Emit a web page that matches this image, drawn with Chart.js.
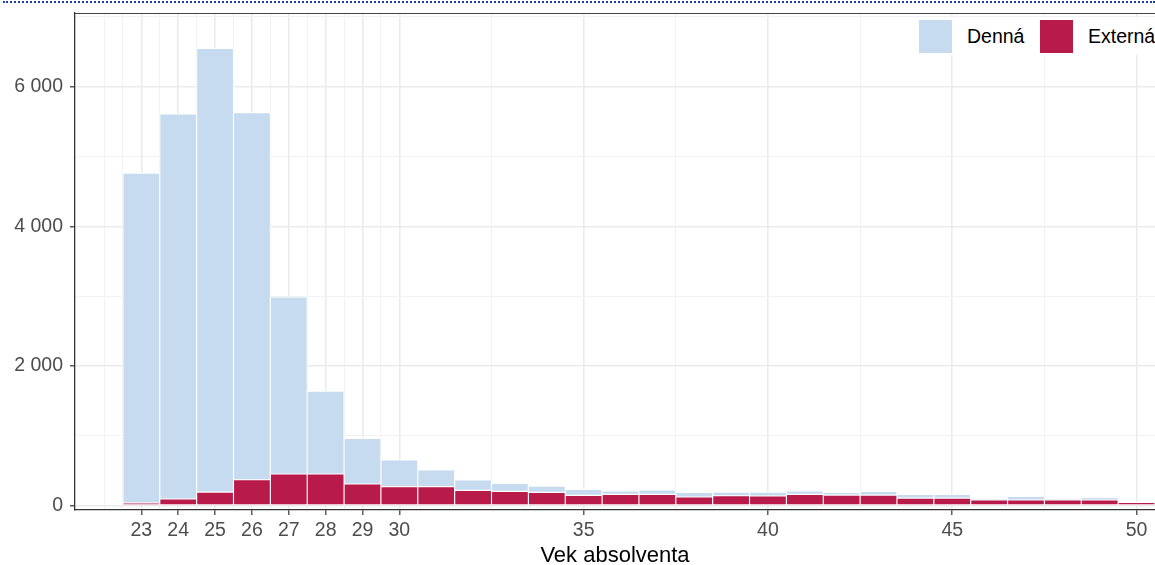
<!DOCTYPE html>
<html>
<head>
<meta charset="utf-8">
<script src="https://cdn.jsdelivr.net/npm/chart.js@4"></script>
<style>
  html, body { margin: 0; padding: 0; background: #fff; overflow: hidden; }
  #wrap { position: relative; width: 1155px; height: 565px; }
  #dots { position: absolute; left: 3px; right: 0; top: 1px; border-top: 2px dotted #1c3fa6; }
  #legend { position: absolute; left: 906px; top: 18px; width: 249px; height: 37px; background: #fff;
            font-family: "Liberation Sans", Arial, sans-serif; font-size: 19.5px; color: #000; white-space: nowrap; }
  .key { position: absolute; top: 2px; width: 33px; height: 33px; }
  .lab { position: absolute; top: 7px; line-height: 22px; }
</style>
</head>
<body>
<div id="wrap">
  <canvas id="chart"></canvas>
  <div id="dots"></div>
  <div id="legend">
    <div class="key" style="left:13px;background:#c6dbef"></div><div class="lab" style="left:61px">Denná</div>
    <div class="key" style="left:134px;background:#b81b4a"></div><div class="lab" style="left:182px">Externá</div>
  </div>
</div>
<script>
const ages = [23, 24, 25, 26, 27, 28, 29, 30, 31, 32, 33, 34, 35, 36, 37, 38, 39, 40, 41, 42, 43, 44, 45, 46, 47, 48, 49, 50];
const denna = [4725, 5516, 6357, 5258, 2536, 1189, 655, 382, 239, 147, 115, 90, 86, 48, 62, 67, 53, 57, 48, 39, 53, 53, 53, 5, 53, 5, 38, 5];
const externa = [35, 93, 193, 370, 451, 451, 308, 270, 270, 218, 203, 189, 146, 160, 160, 122, 140, 136, 160, 150, 150, 107, 107, 79, 79, 79, 79, 46];

const xTicks = [23, 24, 25, 26, 27, 28, 29, 30, 35, 40, 45, 50];
const xMinorTicks = [22, 22.5, 23.5, 24.5, 25.5, 26.5, 27.5, 28.5, 29.5, 32.5, 37.5, 42.5, 47.5];
const yTicks = [0, 2000, 4000, 6000];
const yMinorTicks = [1000, 3000, 5000, 7000];

const font = '"Liberation Sans", Arial, sans-serif';

function fmt(v) {
    return String(v).replace(/\B(?=(\d{3})+(?!\d))/g, ' ');
}

// panel border on top of the plot
const topBorder = {
    id: 'topBorder',
    afterDatasetsDraw(chart) {
        const a = chart.chartArea, ctx = chart.ctx;
        ctx.save();
        ctx.strokeStyle = '#444';
        ctx.lineWidth = 1;
        ctx.beginPath();
        ctx.moveTo(a.left, a.top + 0.5);
        ctx.lineTo(a.right, a.top + 0.5);
        ctx.stroke();
        ctx.restore();
    }
};

const ctx = document.getElementById('chart').getContext('2d');
new Chart(ctx, {
    type: 'bar',
    data: {
        datasets: [
            {
                label: 'Externá',
                data: ages.map((a, i) => ({ x: a, y: externa[i] })),
                backgroundColor: '#b81b4a',
                borderColor: '#ffffff',
                borderWidth: 0.9,
                borderSkipped: false
            },
            {
                label: 'Denná',
                data: ages.map((a, i) => ({ x: a, y: denna[i] })),
                backgroundColor: '#c6dbef',
                borderColor: '#ffffff',
                borderWidth: 0.9,
                borderSkipped: false
            }
        ]
    },
    options: {
        responsive: true,
        maintainAspectRatio: false,
        animation: false,
        layout: { padding: { top: 13, right: 0, left: 0, bottom: 0 } },
        categoryPercentage: 1,
        barPercentage: 1,
        plugins: {
            legend: { display: false },
            tooltip: { enabled: false }
        },
        scales: {
            x: {
                type: 'linear',
                stacked: true,
                offset: false,
                min: 21.2,
                max: 50.5,
                afterBuildTicks: s => { s.ticks = xTicks.map(v => ({ value: v })); },
                afterFit: s => { s.height = 55; s.paddingLeft = 0; s.paddingRight = 0; },
                ticks: {
                    autoSkip: false,
                    maxRotation: 0,
                    padding: 4,
                    color: '#4d4d4d',
                    font: { family: font, size: 19.5 },
                    callback: v => String(v)
                },
                grid: { offset: false, color: '#ebebeb', lineWidth: 1.6, tickLength: 5, tickColor: '#333', tickWidth: 1.2 },
                border: { display: true, color: '#333', width: 1.3 },
                title: {
                    display: true,
                    text: 'Vek absolventa',
                    color: '#000',
                    font: { family: font, size: 22, lineHeight: 0.82 },
                    padding: { top: 0, bottom: 0 }
                }
            },
            xMinor: {
                type: 'linear',
                position: 'bottom',
                offset: false,
                min: 21.2,
                max: 50.5,
                afterBuildTicks: s => { s.ticks = xMinorTicks.map(v => ({ value: v })); },
                afterFit: s => { s.height = 0; s.paddingLeft = 0; s.paddingRight = 0; },
                ticks: { display: false },
                grid: { offset: false, color: '#f2f2f2', lineWidth: 1, drawTicks: false },
                border: { display: false }
            },
            y: {
                stacked: true,
                min: -64,
                max: 7056,
                afterBuildTicks: s => {
                    s.ticks = yTicks.concat(yMinorTicks).sort((a, b) => a - b).map(v => ({ value: v }));
                },
                afterFit: s => { s.width = 75; s.paddingTop = 0; s.paddingBottom = 0; },
                ticks: {
                    padding: 7,
                    color: '#4d4d4d',
                    font: { family: font, size: 19.5 },
                    callback: v => yTicks.includes(v) ? fmt(v) : ''
                },
                grid: {
                    color: c => yTicks.includes(c.tick && c.tick.value) ? '#ebebeb' : '#f2f2f2',
                    lineWidth: c => yTicks.includes(c.tick && c.tick.value) ? 1.6 : 1,
                    tickLength: 5,
                    tickColor: c => yTicks.includes(c.tick && c.tick.value) ? '#333' : 'rgba(0,0,0,0)',
                    tickWidth: 1.2
                },
                border: { display: true, color: '#333', width: 1.3 }
            }
        }
    },
    plugins: [topBorder]
});
</script>
</body>
</html>
